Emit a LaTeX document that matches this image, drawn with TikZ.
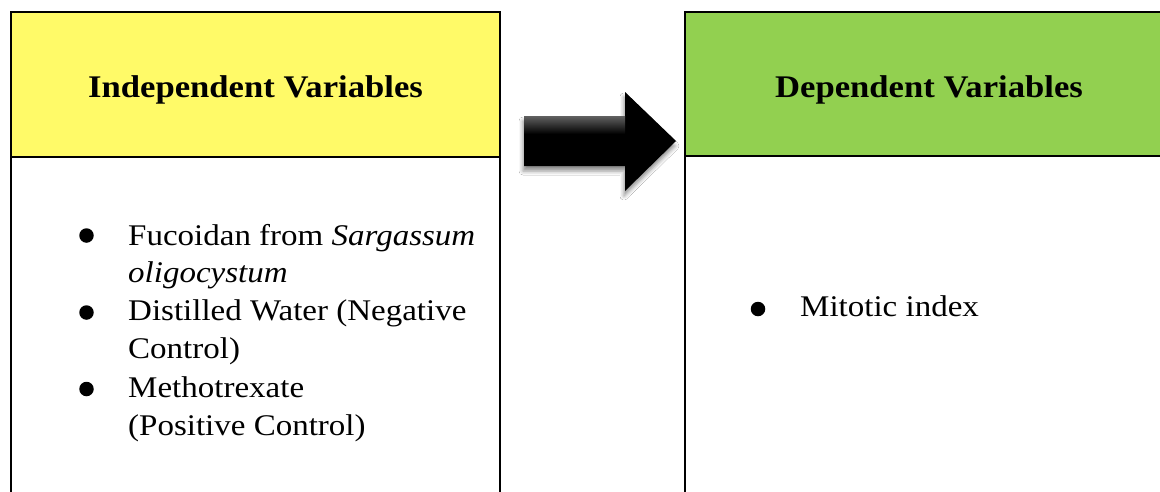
\documentclass[tikz,border=0pt]{standalone}
\usepackage{fontspec}
\setmainfont[FakeStretch=1.1]{Liberation Serif}
\usetikzlibrary{shadows.blur}
\definecolor{hdryellow}{RGB}{255,250,104}
\definecolor{hdrgreen}{RGB}{146,208,80}
\tikzset{
  boxline/.style={draw=black, line width=2.2pt},
  hdrtext/.style={anchor=base, font=\fontsize{31.5}{38}\selectfont\bfseries, inner sep=0pt},
  bodytext/.style={anchor=base west, font=\fontsize{30}{38}\selectfont, inner sep=0pt},
  bulletdot/.style={circle, fill=black, inner sep=0pt, minimum size=14.5pt},
}
\begin{document}
\begin{tikzpicture}[x=1pt,y=-1pt]
\useasboundingbox (0,0) rectangle (1160,491);
\clip (0,0) rectangle (1160,491);
\fill[white] (0,0) rectangle (1160,491);
% left box
\fill[hdryellow] (11,12) rectangle (500,157);
\draw[boxline] (11,530) -- (11,12) -- (500,12) -- (500,530);
\draw[boxline] (11,157) -- (500,157);
% right box
\fill[hdrgreen] (685,12) rectangle (1175,156);
\draw[boxline] (685,530) -- (685,12) -- (1175,12);
\draw[boxline] (685,156) -- (1175,156);
% headers
\node[hdrtext] (indep) at (255.5,97) {Independent Variables};
\node[hdrtext] (dep) at (929,97) {Dependent Variables};
% arrow
\fill[black,
  blur shadow={shadow xshift=-1pt, shadow yshift=-5pt, shadow blur radius=4pt, shadow opacity=45}]
  (524,116) -- (625,116) -- (625,92) -- (676,141) -- (625,191) -- (625,166) -- (524,166) -- cycle;
\shade[top color=black!62, bottom color=black] (524,116) rectangle (625,134);
% left items
\node[bulletdot] (b1) at (86.5,235.5) {};
\node[bodytext] (t1a) at (128,245) {Fucoidan from \textit{Sargassum}};
\node[bodytext] (t1b) at (128,282) {\textit{oligocystum}};
\node[bulletdot] (b2) at (86.5,312.5) {};
\node[bodytext] (t2a) at (128,320) {Distilled Water (Negative};
\node[bodytext] (t2b) at (128,358) {Control)};
\node[bulletdot] (b3) at (86.5,389) {};
\node[bodytext] (t3a) at (128,397) {Methotrexate};
\node[bodytext] (t3b) at (128,435) {(Positive Control)};
% right items
\node[bulletdot] (b4) at (758,309) {};
\node[bodytext] (t4) at (800,316) {Mitotic index};
\end{tikzpicture}
\end{document}
